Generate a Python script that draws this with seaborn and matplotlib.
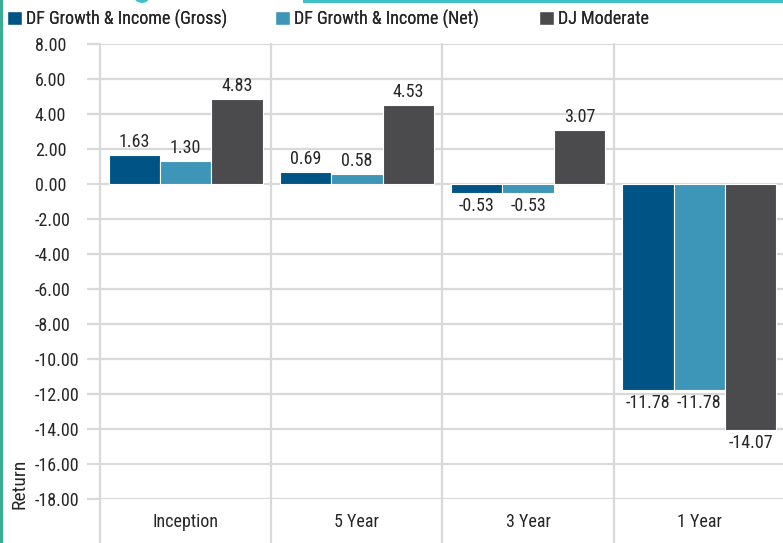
import matplotlib
matplotlib.use("Agg")
import matplotlib.pyplot as plt
from matplotlib import font_manager
from matplotlib.patches import Patch
import pandas as pd
import seaborn as sns

# data
periods = ["Inception", "5 Year", "3 Year", "1 Year"]
series = ["DF Growth & Income (Gross)", "DF Growth & Income (Net)", "DJ Moderate"]
gross = [1.63, 0.69, -0.53, -11.78]
net = [1.30, 0.58, -0.53, -11.78]
dj_moderate = [4.83, 4.53, 3.07, -14.07]
yticks = list(range(-18, 9, 2))

colors = ["#005385", "#3D95B8", "#4B4B4D"]
GRID = "#D9D9D9"
TEXT = "#262626"

sns.set_theme(style="white")
available = {f.name for f in font_manager.fontManager.ttflist}
family = [f for f in ["Liberation Sans Narrow", "Roboto Condensed", "Roboto", "DejaVu Sans"] if f in available]
plt.rcParams["font.family"] = family

df = pd.DataFrame({
    "Period": periods * 3,
    "Series": [s for s in series for _ in periods],
    "Return": gross + net + dj_moderate,
})

fig = plt.figure(figsize=(7.83, 5.43), dpi=100)
ax = fig.add_axes([100 / 783, 1 - 499 / 543, 685 / 783, 455 / 543])

sns.barplot(
    data=df, x="Period", y="Return", hue="Series",
    order=periods, hue_order=series, palette=colors, saturation=1,
    width=0.9, edgecolor="white", linewidth=0.8, ax=ax, legend=False,
)

for c in ax.containers:
    ax.bar_label(c, fmt="%.2f", padding=3, fontsize=13, color=TEXT)

ax.set_ylim(-18, 8)
ax.set_xlim(-0.5, 3.5)
ax.set_yticks(yticks)
ax.set_yticklabels([f"{v:.2f}" for v in yticks])
ax.yaxis.grid(True, color=GRID, linewidth=1.6)
ax.xaxis.grid(False)
ax.set_axisbelow(True)
for s in ax.spines.values():
    s.set_visible(False)
# Excel puts the value labels flush left, starting at x=35px
ax.tick_params(axis="y", length=9.5, width=1.6, color=GRID, pad=37.4,
               labelsize=13, labelcolor=TEXT, left=True)
for lbl in ax.get_yticklabels():
    lbl.set_horizontalalignment("left")
ax.tick_params(axis="x", length=0, pad=10, labelsize=13, labelcolor=TEXT)
ax.set_xlabel("")
ax.set_ylabel("")

# category separators running down past the axis
for xb in [-0.5, 0.5, 1.5, 2.5, 3.5]:
    ax.axvline(xb, ymin=-44 / 455, ymax=1, color=GRID, linewidth=1.6,
               clip_on=False, zorder=0)

fig.text(19 / 783, 1 - 484 / 543, "Return", rotation=90, ha="center",
         va="center", fontsize=14, color=TEXT)

# legend entries placed like the Excel legend
legend_x = [7 / 783, 275 / 783, 539 / 783]
for lx, name, col in zip(legend_x, series, colors):
    leg = fig.legend(handles=[Patch(facecolor=col, label=name)],
                     loc="center left", bbox_to_anchor=(lx, 1 - 19 / 543),
                     frameon=False, fontsize=13, handlelength=0.85,
                     handleheight=0.85, handletextpad=0.2, borderpad=0,
                     borderaxespad=0)
    for t in leg.get_texts():
        t.set_color(TEXT)
    fig.add_artist(leg)

# page decorations: teal side strip, top rule and clipped title
fig.add_artist(plt.Rectangle((0, 0), 3 / 783, 1, transform=fig.transFigure,
                             color="#3AAE93", lw=0))
fig.add_artist(plt.Rectangle((303 / 783, 1 - 3 / 543), 480 / 783, 3 / 543,
                             transform=fig.transFigure, color="#40C1CA", lw=0))
fig.text(132 / 783, 1 + 6 / 543, "g", fontsize=30, color="#40C1CA",
         ha="left", va="baseline")

fig.savefig("out.png", dpi=100)
